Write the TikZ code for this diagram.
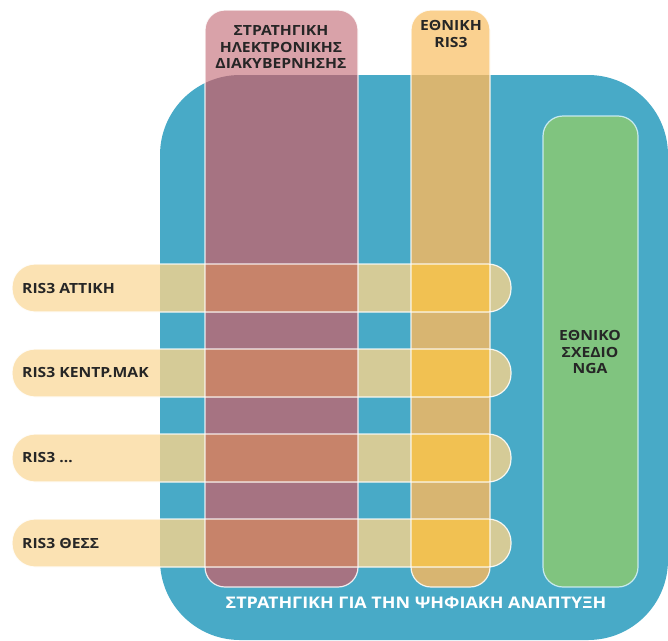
\documentclass[tikz,border=0pt]{standalone}
\usepackage{fontspec}
\setmainfont{Open Sans}[FakeStretch=1.12]
\usepackage{tikz}

\definecolor{modra}{HTML}{48AAC7}
\definecolor{roza}{HTML}{D9A2A9}
\definecolor{vijolicna}{HTML}{A67382}
\definecolor{svetlooranzna}{HTML}{FAD190}
\definecolor{oranzmodra}{HTML}{D8B571}
\definecolor{zelena}{HTML}{80C47F}
\definecolor{bez}{HTML}{FBE2B3}
\definecolor{olivna}{HTML}{D5CB97}
\definecolor{rjava}{HTML}{C7836A}
\definecolor{rumena}{HTML}{F1C152}

% oblike
\newcommand{\oblikamodra}{[rounded corners=80pt] (160,75) rectangle (668,640)}
\newcommand{\oblikaroza}{[rounded corners=20pt] (205,10) rectangle (358,587)}
\newcommand{\oblikaoranz}{[rounded corners=20pt] (411,10) rectangle (490,587)}

\begin{document}
\begin{tikzpicture}[x=1pt, y=-1pt,
    oznaka/.style={font=\bfseries\fontsize{14}{16.5}\selectfont, text=black!85, align=center, inner sep=0pt},
    obroba/.style={draw=white, line width=1.2pt, draw opacity=0.85}]
                \useasboundingbox (0,0) rectangle (668,640);

                % modra podlaga
                \fill[modra] \oblikamodra;

                % navpicni stolpci
                \fill[roza] \oblikaroza;
                \begin{scope}
                    \clip \oblikaroza;
                    \fill[vijolicna] \oblikamodra;
                \end{scope}
                \fill[svetlooranzna] \oblikaoranz;
                \begin{scope}
                    \clip \oblikaoranz;
                    \fill[oranzmodra] \oblikamodra;
                \end{scope}
                \fill[zelena] [rounded corners=20pt] (543,116) rectangle (638,587);

                % vodoravni trakovi
                \foreach \y/\ime [count=\i] in {264/ΑΤΤΙΚΗ, 349/ΚΕΝΤΡ.ΜΑΚ, 434/\dots, 519/ΘΕΣΣ}{
                    \fill[bez] [rounded corners=23pt] (12,\y) rectangle (511,\y+48);
                    \begin{scope}
                        \clip [rounded corners=23pt] (12,\y) rectangle (511,\y+48);
                        \fill[olivna] \oblikamodra;
                        \fill[rjava] \oblikaroza;
                        \fill[rumena] \oblikaoranz;
                    \end{scope}
                    \draw[obroba] [rounded corners=23pt] (12,\y) rectangle (511,\y+48);
                    \node[oznaka, anchor=west] (trak\i) at (22,\y+24) {RIS3 \ime};
                }

                % obrobe stolpcev
                \draw[obroba] \oblikaroza;
                \draw[obroba] \oblikaoranz;
                \draw[obroba, draw=cyan!15] [rounded corners=20pt] (543,116) rectangle (638,587);

                % napisi
                \node[oznaka] (ezu) at (281,47) {ΣΤΡΑΤΗΓΙΚΗ\\ΗΛΕΚΤΡΟΝΙΚΗΣ\\ΔΙΑΚΥΒΕΡΝΗΣΗΣ};
                \node[oznaka] (ris) at (451,34) {ΕΘΝΙΚΗ\\RIS3};
                \node[oznaka] (nga) at (590,352) {ΕΘΝΙΚΟ\\ΣΧΕΔΙΟ\\NGA};
                \node[oznaka, text=white, font=\bfseries\fontsize{16}{18}\selectfont] (strat) at (416,603) {ΣΤΡΑΤΗΓΙΚΗ ΓΙΑ ΤΗΝ ΨΗΦΙΑΚΗ ΑΝΑΠΤΥΞΗ};
            \end{tikzpicture}
\end{document}
